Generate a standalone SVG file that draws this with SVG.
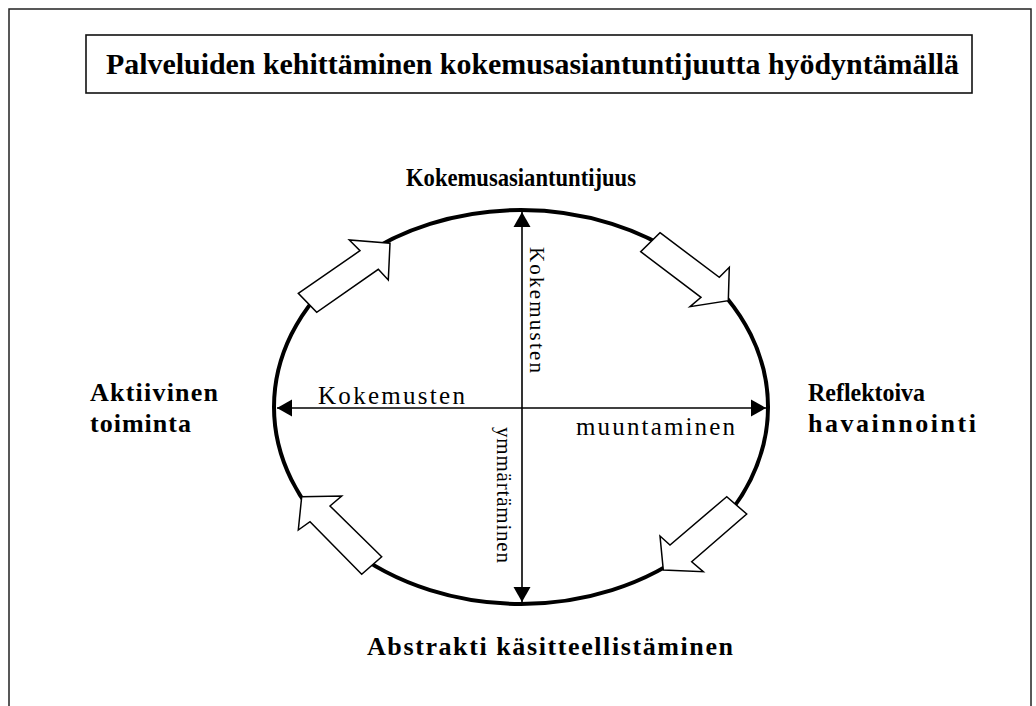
<svg xmlns="http://www.w3.org/2000/svg" width="1036" height="706" viewBox="0 0 1036 706">
<style>
.lbl{font-family:"Liberation Serif","Times New Roman",serif;fill:#000}
.b{font-weight:bold;font-size:26px}
.t{font-weight:bold;font-size:29px}
.r{font-size:25px}
.v{font-size:21px}
.blk{fill:#fff;stroke:#000;stroke-width:1.5;stroke-linejoin:miter}
.axis{stroke:#000;stroke-width:1.6;fill:none}
</style>
<defs>
<marker id="ah" markerUnits="userSpaceOnUse" markerWidth="16" markerHeight="18" refX="15" refY="8.5" orient="auto-start-reverse" viewBox="0 0 16 17">
<path d="M0,0 L15,8.5 L0,17 Z" fill="#000"/>
</marker>
</defs>
<rect width="1036" height="706" fill="#fff"/>
<g id="frame">
<rect x="9" y="9" width="1022" height="740" fill="none" stroke="#222" stroke-width="1.5"/>
</g>
<g id="title">
<rect x="86" y="35" width="886" height="58" fill="#fff" stroke="#111" stroke-width="1.6"/>
<text class="lbl t" x="106" y="74" textLength="853" lengthAdjust="spacingAndGlyphs">Palveluiden kehittäminen kokemusasiantuntijuutta hyödyntämällä</text>
</g>
<g id="cycle">
<ellipse cx="521" cy="407" rx="247" ry="197" fill="none" stroke="#000" stroke-width="4"/>
</g>
<g id="connectors">
<line class="axis" x1="522" y1="602" x2="522" y2="212" marker-start="url(#ah)" marker-end="url(#ah)"/>
<line class="axis" x1="277" y1="408" x2="766" y2="408" marker-start="url(#ah)" marker-end="url(#ah)"/>
<polygon class="blk" points="298.3,293.3 360,250.7 349.3,240 390,243.3 388.3,280 378.3,269.3 316.7,312.3"/>
<polygon class="blk" points="660,232.7 719.3,277.3 729.3,267.3 728.3,300.7 690,306.7 701,297.3 640.7,251.7"/>
<polygon class="blk" points="726.7,496.7 670,545 660,536 663.3,570 703.3,571.7 691.7,561.7 746.7,514"/>
<polygon class="blk" points="381.7,556.7 330,506 341.7,496 301.7,496.7 298.3,530 310,521.7 361.7,574.3"/>
</g>
<g id="node-top"><text class="lbl b" x="406" y="186" textLength="230" lengthAdjust="spacingAndGlyphs">Kokemusasiantuntijuus</text></g>
<g id="node-left"><text class="lbl b" x="90" y="401" textLength="128">Aktiivinen</text><text class="lbl b" x="90" y="432" textLength="101">toiminta</text></g>
<g id="node-right"><text class="lbl b" x="808" y="401" textLength="117" lengthAdjust="spacingAndGlyphs">Reflektoiva</text><text class="lbl b" x="808" y="432" textLength="168">havainnointi</text></g>
<g id="node-bottom"><text class="lbl b" x="367" y="655" textLength="366">Abstrakti käsitteellistäminen</text></g>
<g id="axis-labels">
<text class="lbl r" x="318" y="404" textLength="147">Kokemusten</text>
<text class="lbl r" x="576" y="435" textLength="159">muuntaminen</text>
<text class="lbl v" transform="translate(530,247) rotate(90)" textLength="126">Kokemusten</text>
<text class="lbl v" transform="translate(497,427) rotate(90)" textLength="136">ymmärtäminen</text>
</g>
</svg>
